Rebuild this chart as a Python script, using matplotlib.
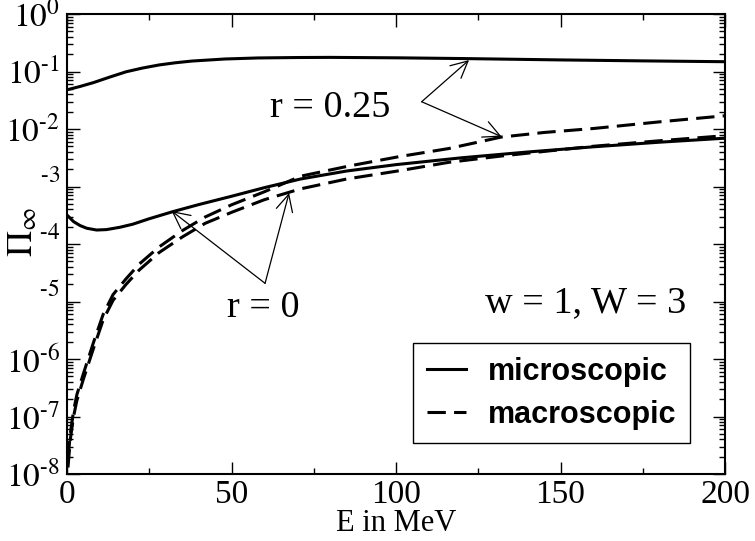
import numpy as np
import matplotlib
matplotlib.use("Agg")
import matplotlib.pyplot as plt
from matplotlib.ticker import LogLocator, MultipleLocator, NullFormatter
from matplotlib.lines import Line2D
from matplotlib.transforms import ScaledTranslation

plt.rcParams['font.family'] = ['Liberation Serif', 'DejaVu Serif']
plt.rcParams['mathtext.fontset'] = 'stix'

# microscopic, r = 0
e_mic_r0 = [0, 2, 4, 6, 9, 12, 16, 20, 25, 32, 40, 50, 60, 71, 85, 100, 120, 140, 160, 180, 200]
pi_mic_r0 = [3.19e-4, 2.45e-4, 2.09e-4, 1.88e-4, 1.75e-4, 1.78e-4, 1.95e-4, 2.21e-4, 2.75e-4,
             3.63e-4, 4.84e-4, 6.76e-4, 9.55e-4, 1.35e-3, 1.86e-3, 2.40e-3, 3.16e-3, 3.98e-3,
             4.90e-3, 5.89e-3, 6.92e-3]

# microscopic, r = 0.25
e_mic_r25 = [0, 4, 8, 13, 18, 23, 28, 33, 38, 48, 58, 70, 80, 100, 120, 150, 175, 200]
pi_mic_r25 = [0.048, 0.055, 0.064, 0.080, 0.099, 0.115, 0.130, 0.142, 0.152, 0.165, 0.172,
              0.175, 0.176, 0.173, 0.168, 0.159, 0.153, 0.148]

# macroscopic, r = 0
e_mac_r0 = [0.3, 1, 2, 3, 5, 8, 11, 14, 18, 22, 28, 35, 42, 50, 60, 71, 85, 101, 116, 132,
            145, 160, 180, 200]
pi_mac_r0 = [1.3e-8, 4.0e-8, 1.0e-7, 1.9e-7, 4.5e-7, 1.5e-6, 4.8e-6, 1.05e-5, 2.0e-5, 3.55e-5,
             7.1e-5, 1.32e-4, 2.29e-4, 3.55e-4, 5.9e-4, 9.1e-4, 1.35e-3, 1.88e-3, 2.63e-3,
             3.39e-3, 4.07e-3, 5.01e-3, 6.24e-3, 7.65e-3]

# macroscopic, r = 0.25
e_mac_r25 = [0.3, 1, 2, 3, 5, 8, 11, 14, 18, 22, 28, 35, 42, 50, 60, 71, 86, 101, 116, 132,
             145, 160, 180, 200]
pi_mac_r25 = [1.8e-8, 5.0e-8, 1.26e-7, 2.4e-7, 5.6e-7, 1.9e-6, 6.0e-6, 1.32e-5, 2.5e-5, 4.5e-5,
              8.9e-5, 1.7e-4, 2.95e-4, 4.8e-4, 8.1e-4, 1.51e-3, 2.29e-3, 3.31e-3, 4.57e-3,
              7.24e-3, 8.7e-3, 1.02e-2, 1.33e-2, 1.70e-2]

ytick_vals = [1e-8, 1e-7, 1e-6, 1e-5, 1e-4, 1e-3, 1e-2, 1e-1, 1e0]
ytick_labels = [r'$10^{\text{-}8}$', r'$10^{\text{-}7}$', r'$10^{\text{-}6}$',
                r'${}^{\text{-}5}$', r'${}^{\text{-}4}$', r'${}^{\text{-}3}$',
                r'$10^{\text{-}2}$', r'$10^{\text{-}1}$', r'$10^{0}$']

fig = plt.figure(figsize=(7.55, 5.41), dpi=100)
ax = fig.add_axes([67 / 755, 67 / 541, 658 / 755, 460 / 541])

dash = (0, (6, 2.7))
ax.plot(e_mic_r25, pi_mic_r25, color='black', lw=2.2)
ax.plot(e_mic_r0, pi_mic_r0, color='black', lw=2.2)
ax.plot(e_mac_r25, pi_mac_r25, color='black', lw=2.2, linestyle=dash)
ax.plot(e_mac_r0, pi_mac_r0, color='black', lw=2.2, linestyle=dash)

ax.set_yscale('log')
ax.set_xlim(0, 200)
ax.set_ylim(1e-8, 1)

ax.xaxis.set_major_locator(MultipleLocator(50))
ax.xaxis.set_minor_locator(MultipleLocator(25))
ax.set_yticks(ytick_vals)
ax.set_yticklabels(ytick_labels)
ax.yaxis.set_minor_locator(LogLocator(base=10, subs=np.arange(2, 10), numticks=100))
ax.yaxis.set_minor_formatter(NullFormatter())

ax.tick_params(which='both', direction='in', top=True, right=True, width=1)
ax.tick_params(which='major', length=9, labelsize=24)
ax.tick_params(which='minor', length=4.5)
ax.tick_params(axis='x', pad=4)
ax.tick_params(axis='y', pad=5)
for s in ax.spines.values():
    s.set_linewidth(1.5)

# the bare exponents sit a little higher than the tick
for lbl in ax.get_yticklabels()[3:6]:
    lbl.set_transform(lbl.get_transform() + ScaledTranslation(0, 5 / 72, fig.dpi_scale_trans))

ax.set_xlabel('E in MeV', fontsize=22, labelpad=-1)
fig.text(24 / 755, 1 - 232 / 541, r'$\Pi_\infty$', fontsize=26, rotation=90,
         ha='center', va='center')

# annotations
arr = dict(arrowstyle='->', lw=0.9, color='black', shrinkA=0, shrinkB=0, mutation_scale=30)
ax.annotate('', xy=(122.2, 0.158), xytext=(107.8, 0.0298), arrowprops=arr)
ax.annotate('', xy=(132.1, 7.35e-3), xytext=(107.8, 0.0298), arrowprops=arr)
ax.annotate('', xy=(31.8, 3.75e-4), xytext=(60.2, 2.07e-5), arrowprops=arr)
ax.annotate('', xy=(67.5, 7.7e-4), xytext=(60.2, 2.07e-5), arrowprops=arr)
ax.text(61.7, 0.0162, 'r = 0.25', fontsize=27.5, ha='left', va='baseline')
ax.text(48.5, 5.44e-6, 'r = 0', fontsize=27.5, ha='left', va='baseline')
ax.text(127.1, 6.56e-6, 'w = 1, W = 3', fontsize=27.5, ha='left', va='baseline')

handles = [Line2D([], [], color='black', lw=2.2),
           Line2D([], [], color='black', lw=2.2, linestyle=dash)]
leg = ax.legend(handles, ['microscopic', 'macroscopic'], loc='upper left',
                bbox_to_anchor=(413 / 755, 1 - 343 / 541), bbox_transform=fig.transFigure,
                prop={'family': 'Liberation Sans', 'weight': 'bold', 'size': 22},
                frameon=True, fancybox=False, edgecolor='black', framealpha=1,
                borderpad=0.45, handlelength=1.3, handletextpad=0.7, labelspacing=0.42,
                borderaxespad=0)
leg.get_frame().set_linewidth(1.0)

fig.savefig('out.png', dpi=100)
